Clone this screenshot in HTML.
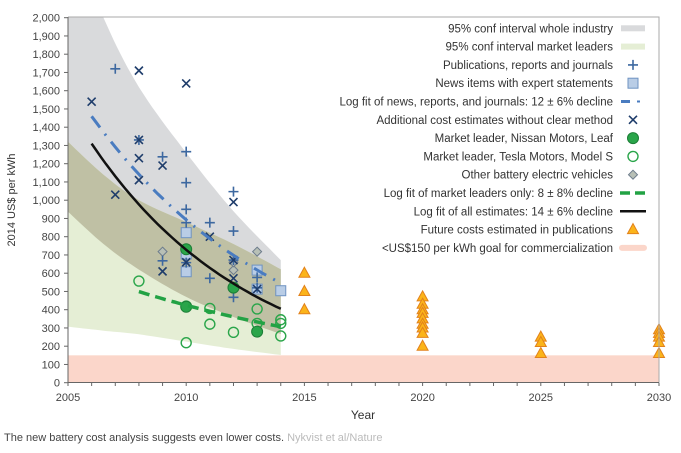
<!DOCTYPE html>
<html><head><meta charset="utf-8"><style>
body{margin:0;background:#fff;width:681px;height:453px;overflow:hidden;font-family:"Liberation Sans",sans-serif}
svg{display:block}
</style></head><body>
<svg id="chart" width="681" height="453" viewBox="0 0 681 453" xmlns="http://www.w3.org/2000/svg">
<defs><clipPath id="plotClip"><rect x="68" y="17" width="591" height="365"/></clipPath></defs>
<g id="bands" clip-path="url(#plotClip)"></g>
<g id="marks"></g>
<g id="fits"></g>
<g id="axes"></g>
<g id="legend"></g>
<text x="363" y="419" font-size="12" fill="#333" text-anchor="middle">Year</text>
<text x="15" y="200" font-size="11" fill="#333" text-anchor="middle" transform="rotate(-90 15 200)">2014 US$ per kWh</text>
<text x="4" y="441" font-size="11" fill="#444">The new battery cost analysis suggests even lower costs. <tspan fill="#bbb">Nykvist et al/Nature</tspan></text>
</svg>
<script>
const yTicks=[0,100,200,300,400,500,600,700,800,900,1000,1100,1200,1300,1400,1500,1600,1700,1800,1900,2000];
const yTickLabels=["0","100","200","300","400","500","600","700","800","900","1,000","1,100","1,200","1,300","1,400","1,500","1,600","1,700","1,800","1,900","2,000"];
const xTickLabels=["2005","2010","2015","2020","2025","2030"];
const bandYears=[2005,2006.5,2008,2010,2012,2014];
const grayUpper=[2500,2000,1620,1260,940,672];
const greenUpper=[1320,1140,1000,880,760,622];
const grayLower=[937,760,620,470,360,267];
const greenLower=[307,285,265,225,185,152];
const goalValue=150;
const pubYears=[2007,2008,2009,2010,2010,2010,2010,2011,2012,2012,2009,2010,2012,2011,2012,2013,2013];
const pubVals=[1720,1330,1238,1266,1096,950,877,877,1047,831,668,658,672,572,468,577,520];
const xYears=[2006,2007,2008,2008,2008,2008,2009,2009,2010,2010,2011,2012,2012,2012,2013];
const xVals=[1540,1030,1710,1330,1230,1110,1190,610,1640,660,800,990,672,572,513];
const newsYears=[2010,2010,2010,2013,2013,2014];
const newsVals=[822,705,608,617,513,504];
const nissanYears=[2010,2010,2012,2013];
const nissanVals=[731,416,521,280];
const teslaYears=[2008,2010,2010,2011,2011,2012,2013,2013,2014,2014,2014];
const teslaVals=[557,420,219,407,321,276,404,325,345,325,256];
const otherYears=[2009,2012,2012,2013,2013];
const otherVals=[718,617,660,718,513];
const futureYears=[2015,2015,2015,2020,2020,2020,2020,2020,2020,2020,2020,2020,2025,2025,2025,2030,2030,2030,2030,2030];
const futureVals=[600,500,400,470,430,400,380,350,320,300,270,200,250,220,160,290,270,250,220,160];
const fitAll=[2006,2014,1310,405];
const fitNews=[2006,2014,1460,546];
const fitLeaders=[2008,2014,499,307];

const X=t=>68+(t-2005)*23.64;
const Y=v=>382.7-v*0.1825;
const NS="http://www.w3.org/2000/svg";
function mk(tag,parent,attrs){const e=document.createElementNS(NS,tag);for(const k in attrs)e.setAttribute(k,attrs[k]);parent.appendChild(e);return e;}
const bands=document.getElementById('bands'),marks=document.getElementById('marks'),fits=document.getElementById('fits'),axes=document.getElementById('axes'),legend=document.getElementById('legend');

function smooth(vals){ // catmull-rom sampled points
  const P=bandYears.map((t,i)=>[X(t),Y(vals[i])]);const out=[];
  for(let i=0;i<P.length-1;i++){const p0=P[Math.max(0,i-1)],p1=P[i],p2=P[i+1],p3=P[Math.min(P.length-1,i+2)];
    for(let s=0;s<10;s++){const u=s/10,u2=u*u,u3=u2*u;
      const f=k=>0.5*((2*p1[k])+(-p0[k]+p2[k])*u+(2*p0[k]-5*p1[k]+4*p2[k]-p3[k])*u2+(-p0[k]+3*p1[k]-3*p2[k]+p3[k])*u3);
      out.push([f(0),f(1)]);}}
  out.push(P[P.length-1]);return out;
}
function poly(up,lo,fill,name){
  const a=smooth(up),b=smooth(lo).reverse();
  const pts=a.concat(b).map(p=>p[0].toFixed(1)+','+p[1].toFixed(1));
  const p=mk('polygon',bands,{points:pts.join(' '),fill:fill});
  
  
}
poly(grayUpper,grayLower,'#d9dadc','band-whole-industry');
poly(greenUpper,greenLower,'#e5eed5','band-market-leaders');
const ovUp=grayUpper.map((v,i)=>Math.min(v,greenUpper[i])),ovLo=grayLower.map((v,i)=>Math.max(v,greenLower[i]));
poly(ovUp,ovLo,'#bfc0a4','band-overlap');
const goal=mk('rect',bands,{x:68,y:Y(goalValue),width:591,height:Y(0)-Y(goalValue),fill:'#fbd6ca'});



function plus(g,x,y){mk('path',g,{d:`M${x-5},${y}H${x+5}M${x},${y-5}V${y+5}`,stroke:'#3d68a0','stroke-width':1.6,fill:'none'});}
function cross(g,x,y){mk('path',g,{d:`M${x-4},${y-4}L${x+4},${y+4}M${x+4},${y-4}L${x-4},${y+4}`,stroke:'#1f3d6b','stroke-width':1.6,fill:'none'});}
function square(g,x,y){mk('rect',g,{x:x-5,y:y-5,width:10,height:10,fill:'#b9cde6',stroke:'#6f93c2','stroke-width':1});}
function dot(g,x,y){mk('circle',g,{cx:x,cy:y,r:5.5,fill:'#2aa54a',stroke:'#1d7e37','stroke-width':1});}
function ring(g,x,y){mk('circle',g,{cx:x,cy:y,r:5,fill:'none',stroke:'#2aa54a','stroke-width':1.4});}
function diamond(g,x,y){mk('path',g,{d:`M${x},${y-4.5}L${x+4.5},${y}L${x},${y+4.5}L${x-4.5},${y}Z`,fill:'#b8c0b6',stroke:'#6d7c8c','stroke-width':1});}
function tri(g,x,y){mk('path',g,{d:`M${x},${y-6}L${x+5.5},${y+4}L${x-5.5},${y+4}Z`,fill:'#fbb41a',stroke:'#e2821c','stroke-width':1});}

function series(ys,vs,fn,name){
  const g=mk('g',marks,{});
  
  
  ys.forEach((t,i)=>fn(g,X(t),Y(vs[i])));
}
series(teslaYears,teslaVals,ring,'tesla-points');
series(otherYears,otherVals,diamond,'other-ev-points');
series(newsYears,newsVals,square,'news-points');
series(pubYears,pubVals,plus,'publication-points');
series(xYears,xVals,cross,'additional-estimate-points');
series(nissanYears,nissanVals,dot,'nissan-points');
series(futureYears,futureVals,tri,'future-cost-points');

function fitPath(f){const [t0,t1,v0,v1]=f;const k=Math.log(v1/v0)/(t1-t0);let d='';for(let i=0;i<=40;i++){const t=t0+(t1-t0)*i/40;d+=(i?'L':'M')+X(t).toFixed(1)+','+Y(v0*Math.exp(k*(t-t0))).toFixed(1);}return d;}
let fl=mk('path',fits,{d:fitPath(fitNews),stroke:'#4a7cc0','stroke-width':3,fill:'none','stroke-dasharray':'14,8,2,8'});


fl=mk('path',fits,{d:fitPath(fitLeaders),stroke:'#22a244','stroke-width':3.5,fill:'none','stroke-dasharray':'11,6'});


fl=mk('path',fits,{d:fitPath(fitAll),stroke:'#111','stroke-width':2.5,fill:'none'});



mk('path',axes,{d:'M68,17H659V382',stroke:'#aaa','stroke-width':1,fill:'none'});
mk('path',axes,{d:'M68,17V382.5H659',stroke:'#666','stroke-width':1,fill:'none'});
yTicks.forEach((v,i)=>{
  mk('line',axes,{x1:64,x2:68,y1:Y(v),y2:Y(v),stroke:'#666'});
  const t=mk('text',axes,{x:60,y:Y(v)+4,'font-size':11,fill:'#444','text-anchor':'end'});
  t.textContent=yTickLabels[i];
  
  
});
for(let yr=2005;yr<=2030;yr++)mk('line',axes,{x1:X(yr),x2:X(yr),y1:382.5,y2:386,stroke:'#666'});
xTickLabels.forEach(s=>{
  const t=mk('text',axes,{x:X(+s),y:401,'font-size':11,fill:'#444','text-anchor':'middle'});
  t.textContent=s;
  
  
});

const legendLabels=["95% conf interval whole industry","95% conf interval market leaders","Publications, reports and journals","News items with expert statements","Log fit of news, reports, and journals: 12 \u00b1 6% decline","Additional cost estimates without clear method","Market leader, Nissan Motors, Leaf","Market leader, Tesla Motors, Model S","Other battery electric vehicles","Log fit of market leaders only: 8 \u00b1 8% decline","Log fit of all estimates: 14 \u00b1 6% decline","Future costs estimated in publications","<US$150 per kWh goal for commercialization"];
legendLabels.forEach((s,i)=>{
  const y=28.3+i*18.3;
  const g=mk('g',legend,{});
  
  
  const t=mk('text',g,{x:613,y:y+4,'font-size':11.5,fill:'#333','text-anchor':'end'});
  t.textContent=s;
  const cx=633;
  if(i==0)mk('rect',g,{x:621,y:y-3,width:24,height:6,fill:'#d9dadc'});
  if(i==1)mk('rect',g,{x:621,y:y-3,width:24,height:6,fill:'#e5eed5'});
  if(i==2)plus(g,cx,y);
  if(i==3)square(g,cx,y);
  if(i==4){mk('line',g,{x1:621,x2:630,y1:y,y2:y,stroke:'#4a7cc0','stroke-width':3});mk('line',g,{x1:637,x2:640,y1:y,y2:y,stroke:'#4a7cc0','stroke-width':2});}
  if(i==5)cross(g,cx,y);
  if(i==6)dot(g,cx,y);
  if(i==7)ring(g,cx,y);
  if(i==8)diamond(g,cx,y);
  if(i==9){mk('line',g,{x1:620,x2:646,y1:y,y2:y,stroke:'#22a244','stroke-width':3.5,'stroke-dasharray':'10,5'});}
  if(i==10)mk('line',g,{x1:620,x2:646,y1:y,y2:y,stroke:'#111','stroke-width':2.5});
  if(i==11)tri(g,cx,y);
  if(i==12)mk('line',g,{x1:622,x2:644,y1:y,y2:y,stroke:'#fbd6ca','stroke-width':6,'stroke-linecap':'round'});
});
</script>
</body></html>
